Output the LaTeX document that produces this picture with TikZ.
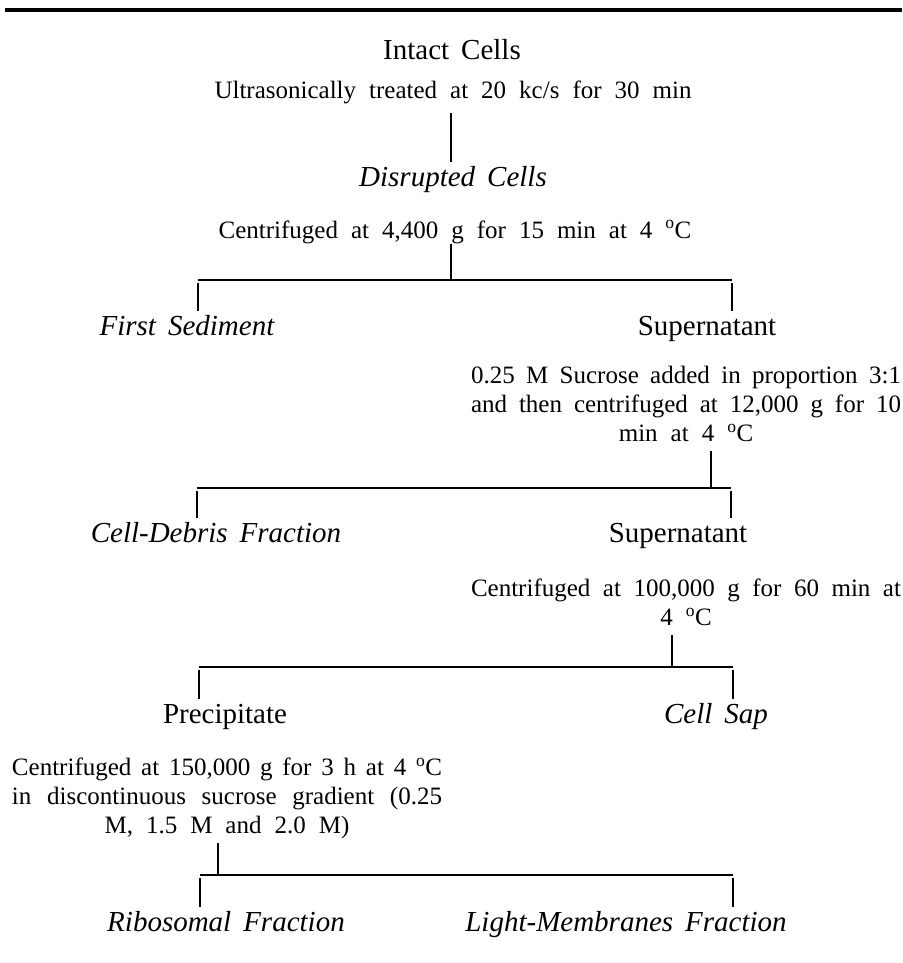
\documentclass[tikz,border=0pt]{standalone}
\usepackage{fontspec}
\setmainfont{Liberation Serif}
\usepackage{tikz}
\newlength{\blockw}
\setlength{\blockw}{430pt}
\newcommand{\fillline}[2][\blockw]{\makebox[#1][s]{\strut #2}}
\newcommand{\degc}{\textsuperscript{o}C}
\newcommand{\treatfont}{\fontsize{25}{29}\selectfont\spaceskip=13pt plus 10pt minus 6pt\relax}
\newcommand{\stagefont}{\fontsize{29}{34}\selectfont\spaceskip=12pt plus 4pt minus 3pt\relax}
\tikzset{stage/.style = {font=\stagefont, inner sep=0pt, text height=23pt, text depth=6pt, anchor=base}}
\tikzset{fraction/.style = {stage, font=\stagefont\itshape}}
\tikzset{treatment/.style = {font=\treatfont, inner sep=0pt, align=center}}

\begin{document}
\begin{tikzpicture}[x=1pt, y=-1pt, line width=1.2pt]
      \useasboundingbox (0, 0) rectangle (902, 963);
      \draw [line width=4pt] (5, 10) -- (902, 10);

      \node [stage] (intact) at (452, 60) {Intact Cells};
      \node [treatment, anchor=base, text depth=13pt] (sonic) at (453, 99) {Ultrasonically treated at 20 kc/s for 30 min};
      \node [fraction] (disrupted) at (453, 186) {Disrupted Cells};
      \node [treatment, anchor=base, text depth=5pt] (spin1) at (455, 238) {Centrifuged at 4,400 g for 15 min at 4 \degc};

      \coordinate (bar1) at (451, 280);
      \coordinate (bar1l) at (198, 280);
      \coordinate (bar1r) at (732, 280);
      \node [fraction] (sediment) at (187, 335) {First Sediment};
      \node [stage] (super1) at (707, 335) {Supernatant};
      \node [treatment, anchor=north] (spin2) at (686, 362.7)
        {\fillline{0.25 M Sucrose added in proportion 3:1}\\
         \fillline{and then centrifuged at 12,000 g for 10}\\
         \strut min at 4 \degc};

      \coordinate (bar2) at (711, 488);
      \coordinate (bar2l) at (197, 488);
      \coordinate (bar2r) at (731, 488);
      \node [fraction] (debris) at (216, 542) {Cell-Debris Fraction};
      \node [stage] (super2) at (678, 542) {Supernatant};
      \node [treatment, anchor=north] (spin3) at (686, 575.7)
        {\fillline{Centrifuged at 100,000 g for 60 min at}\\
         \strut 4 \degc};

      \coordinate (bar3) at (672, 667);
      \coordinate (bar3l) at (199, 667);
      \coordinate (bar3r) at (733, 667);
      \node [stage] (precip) at (225, 723) {Precipitate};
      \node [fraction] (sap) at (716, 723) {Cell Sap};
      \node [treatment, anchor=north] (spin4) at (227, 754.7)
        {\fillline{Centrifuged at 150,000 g for 3 h at 4 \degc}\\
         \fillline{in discontinuous sucrose gradient (0.25}\\
         \strut M, 1.5 M and 2.0 M)};

      \coordinate (bar4) at (218, 875);
      \coordinate (bar4l) at (200, 875);
      \coordinate (bar4r) at (733, 875);
      \node [fraction] (ribo) at (226, 931) {Ribosomal Fraction};
      \node [fraction] (light) at (626, 931) {Light-Membranes Fraction};

      \draw (sonic.south -| bar1) -- (disrupted.north -| bar1);

      \draw (spin1.south -| bar1) -- (bar1);
      \draw (bar1l) -- (bar1r);
      \draw ([yshift=-3pt]bar1l) -- (bar1l |- sediment.north);
      \draw ([yshift=-3pt]bar1r) -- (bar1r |- super1.north);

      \draw (spin2.south -| bar2) -- (bar2);
      \draw (bar2l) -- (bar2r);
      \draw ([yshift=-3pt]bar2l) -- (bar2l |- debris.north);
      \draw ([yshift=-3pt]bar2r) -- (bar2r |- super2.north);

      \draw (spin3.south -| bar3) -- (bar3);
      \draw (bar3l) -- (bar3r);
      \draw ([yshift=-3pt]bar3l) -- (bar3l |- precip.north);
      \draw ([yshift=-3pt]bar3r) -- (bar3r |- sap.north);

      \draw (spin4.south -| bar4) -- (bar4);
      \draw (bar4l) -- (bar4r);
      \draw ([yshift=-3pt]bar4l) -- (bar4l |- ribo.north);
      \draw ([yshift=-3pt]bar4r) -- (bar4r |- light.north);
    \end{tikzpicture}
\end{document}
